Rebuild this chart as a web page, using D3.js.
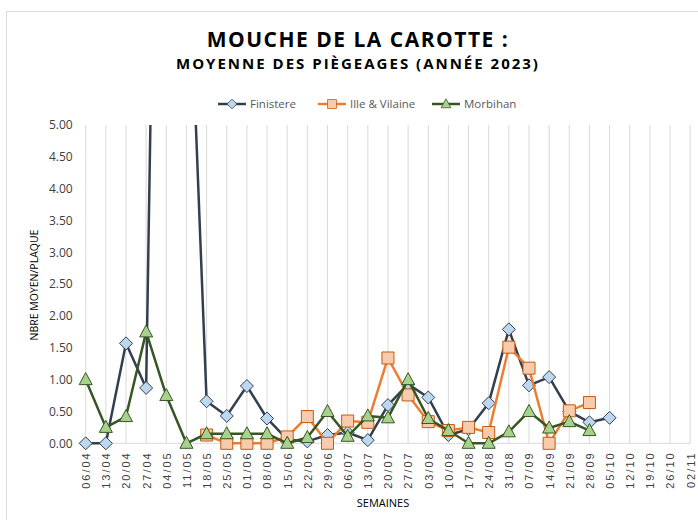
<!DOCTYPE html>
<html><head><meta charset="utf-8">
<script src="https://cdn.jsdelivr.net/npm/d3@7"></script>
<style>
body{margin:0;background:#fff;}
svg{display:block;font-family:"Open Sans","Liberation Sans",sans-serif;}
</style></head>
<body>
<svg id="chart" width="698" height="520"></svg>
<script>
const categories = ["06/04","13/04","20/04","27/04","04/05","11/05","18/05","25/05","01/06","08/06","15/06","22/06","29/06","06/07","13/07","20/07","27/07","03/08","10/08","17/08","24/08","31/08","07/09","14/09","21/09","28/09","05/10","12/10","19/10","26/10","02/11"];
const finistere = [0,0,1.57,0.87,20.5,8.8,0.66,0.43,0.9,0.39,0.06,0.03,0.13,0.17,0.05,0.6,0.93,0.72,0.13,0.22,0.63,1.79,0.91,1.04,0.5,0.33,0.4,null,null,null,null];
const illeVilaine = [null,null,null,null,null,null,0.13,0,0,0,0.1,0.42,0,0.35,0.33,1.34,0.76,0.34,0.2,0.25,0.17,1.51,1.18,0,0.51,0.64,null,null,null,null,null];
const morbihan = [1,0.25,0.42,1.75,0.75,0,0.15,0.15,0.15,0.15,0,0.09,0.5,0.11,0.43,0.4,1,0.39,0.2,0,0,0.18,0.5,0.24,0.34,0.2,null,null,null,null,null];
const yTicks = [0,0.5,1,1.5,2,2.5,3,3.5,4,4.5,5];
const seriesNames = ["Finistere","Ille & Vilaine","Morbihan"];

const series = [
  {name:seriesNames[0], values:finistere, line:"#333f50", fill:"#bdd7ee", stroke:"#333f50", shape:"diamond"},
  {name:seriesNames[1], values:illeVilaine, line:"#ed7d31", fill:"#f8cbad", stroke:"#c55a11", shape:"square"},
  {name:seriesNames[2], values:morbihan, line:"#375623", fill:"#a9d18e", stroke:"#375623", shape:"triangle"}
];

const svg = d3.select("#chart");
const L = 85.7, R = 690.2, T = 125, B = 443.3;

svg.append("rect").attr("x",6.5).attr("y",11.5).attr("width",720).attr("height",520).attr("fill","#fff").attr("stroke","#d9d9d9");

const x = d3.scalePoint().domain(categories).range([L,R]);
const y = d3.scaleLinear().domain([0,5]).range([B,T]);

// vertical gridlines
svg.append("g").selectAll("line").data(categories).join("line")
  .attr("x1",d=>x(d)).attr("x2",d=>x(d)).attr("y1",T).attr("y2",B)
  .attr("stroke","#d9d9d9").attr("stroke-width",1);
svg.append("line").attr("x1",L).attr("x2",R).attr("y1",B).attr("y2",B).attr("stroke","#d9d9d9");

// y axis
const yAxis = d3.axisLeft(y).tickValues(yTicks).tickFormat(d3.format(".2f")).tickSize(0).tickPadding(13);
const yg = svg.append("g").attr("transform",`translate(${L},0)`).call(yAxis);
yg.select(".domain").remove();
yg.selectAll("text").attr("font-size",12).attr("fill","#404040").attr("font-family","'Open Sans',sans-serif");

// x axis
const xAxis = d3.axisBottom(x).tickSize(0).tickPadding(0);
const xg = svg.append("g").attr("transform",`translate(0,${B})`).call(xAxis);
xg.select(".domain").remove();
xg.selectAll("text")
  .attr("font-size",11).attr("fill","#404040").attr("font-family","'Liberation Sans',sans-serif")
  .attr("letter-spacing","2px")
  .attr("text-anchor","end")
  .attr("transform","translate(0,8) rotate(-90)")
  .attr("x",0).attr("y",0).attr("dy","0.35em");

// clip
svg.append("clipPath").attr("id","plotclip").append("rect").attr("x",L-10).attr("y",T).attr("width",R-L+20).attr("height",B-T+10);

const lineGen = d3.line().defined(d=>d.v!==null).x(d=>x(d.c)).y(d=>y(d.v));

function markerPath(shape){
  if(shape==="diamond") return "M0,-6.5L6.5,0L0,6.5L-6.5,0Z";
  if(shape==="square") return "M-6,-6H6V6H-6Z";
  return "M0,-7L6.5,5H-6.5Z";
}

series.forEach(s=>{
  const pts = categories.map((c,i)=>({c, v:s.values[i]}));
  svg.append("path").datum(pts).attr("d",lineGen).attr("fill","none")
    .attr("stroke",s.line).attr("stroke-width",2.5).attr("stroke-linejoin","round")
    .attr("clip-path","url(#plotclip)");
  svg.append("g").selectAll("path").data(pts.filter(d=>d.v!==null && d.v<=5)).join("path")
    .attr("transform",d=>`translate(${x(d.c)},${y(d.v)})`)
    .attr("d",markerPath(s.shape))
    .attr("fill",s.fill).attr("stroke",s.stroke).attr("stroke-width",1);
});

// titles
svg.append("text").attr("x",358).attr("y",47).attr("text-anchor","middle")
  .attr("font-size",21).attr("font-weight","bold").attr("fill","#000")
  .attr("letter-spacing","1.5px")
  .text("MOUCHE DE LA CAROTTE :");
svg.append("text").attr("x",358).attr("y",69).attr("text-anchor","middle")
  .attr("font-size",15).attr("font-weight","bold").attr("fill","#000")
  .attr("letter-spacing","2px")
  .text("MOYENNE DES PIÈGEAGES (ANNÉE 2023)");

// legend
const legX = [218, 318, 432];
const lg = svg.append("g");
series.forEach((s,i)=>{
  const g = lg.append("g").attr("transform",`translate(${legX[i]},104)`);
  g.append("line").attr("x1",0).attr("x2",28).attr("stroke",s.line).attr("stroke-width",2.5);
  g.append("path").attr("transform","translate(14,0) scale(0.75)").attr("d",markerPath(s.shape))
    .attr("fill",s.fill).attr("stroke",s.stroke).attr("stroke-width",1);
  g.append("text").attr("x",32).attr("y",0).attr("dy","0.35em").attr("font-size",11.5).attr("fill","#595959").text(s.name);
});

// axis titles
svg.append("text").attr("transform","translate(38,285) rotate(-90)").attr("text-anchor","middle")
  .attr("font-size",10.5).attr("fill","#000").text("NBRE MOYEN/PLAQUE");
svg.append("text").attr("x",383).attr("y",507).attr("text-anchor","middle")
  .attr("font-size",11).attr("fill","#000").text("SEMAINES");
</script>
</body></html>
